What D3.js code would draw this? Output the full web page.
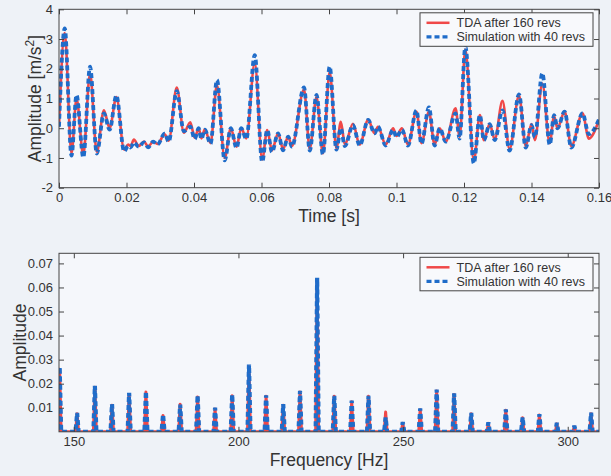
<!DOCTYPE html>
<html>
<head>
<meta charset="utf-8">
<script src="https://cdn.jsdelivr.net/npm/d3@7"></script>
<style>
  body { margin: 0; background: #eef2f7; }
  svg { display: block; font-family: "Liberation Sans", Arial, sans-serif; }
</style>
</head>
<body>
<div id="root"></div>
<script>
// time signal (local extrema)
const timeS = [0, 0.0017, 0.0037, 0.0052, 0.0072, 0.0092, 0.0112, 0.0133, 0.015, 0.017,
  0.0193, 0.0205, 0.0212, 0.0222, 0.0236, 0.0252, 0.0264, 0.0279, 0.0292, 0.0313,
  0.0325, 0.0349, 0.037, 0.0389, 0.0402, 0.0414, 0.0422, 0.0432, 0.0449, 0.0468,
  0.0491, 0.0509, 0.0526, 0.054, 0.0555, 0.058, 0.0602, 0.0617, 0.0631, 0.0649,
  0.0664, 0.0679, 0.069, 0.0726, 0.0743, 0.0763, 0.0782, 0.0802, 0.0822, 0.0835,
  0.0847, 0.0871, 0.0891, 0.0916, 0.0935, 0.0945, 0.0968, 0.099, 0.1, 0.1016,
  0.1034, 0.1059, 0.1074, 0.1096, 0.1113, 0.1128, 0.1146, 0.1175, 0.1187, 0.1204,
  0.1229, 0.1247, 0.1259, 0.1276, 0.1291, 0.1314, 0.1335, 0.1363, 0.1383, 0.14,
  0.141, 0.1432, 0.1454, 0.1467, 0.1477, 0.1498, 0.1518, 0.1551, 0.157, 0.16];
const tdaTime = [0.05, 3.2, -0.85, 1.0, -0.9, 1.85, -0.8, 0.6, 0.0, 1.05,
  -0.72, -0.55, -0.6, -0.38, -0.6, -0.45, -0.62, -0.45, -0.53, -0.2,
  -0.42, 1.37, -0.15, 0.2, -0.32, 0.0, -0.34, -0.04, -0.5, 1.45,
  -1.0, 0.0, -0.62, 0.0, -0.34, 2.2, -1.05, -0.06, -0.75, -0.17,
  -0.7, -0.28, -0.6, 1.3, -0.7, 1.05, -0.85, 1.9, -0.68, 0.22,
  -0.55, 0.15, -0.55, 0.28, -0.17, 0.05, -0.55, 0.0, -0.26, 0.0,
  -0.55, 0.56, -0.5, 0.55, -0.55, 0.0, -0.45, 0.67, -0.29, 2.65,
  -1.1, 0.44, -0.4, 0.14, -0.37, 0.92, -0.7, 1.1, -0.6, 0.14,
  -0.4, 1.5, -0.5, 0.4, 0.0, 0.56, -0.6, 0.5, -0.35, 0.28];
const simTime = [0.05, 3.36, -0.92, 1.12, -0.98, 2.07, -0.85, 0.5, -0.05, 1.1,
  -0.78, -0.6, -0.65, -0.48, -0.62, -0.48, -0.64, -0.45, -0.55, -0.18,
  -0.45, 1.25, -0.1, 0.05, -0.36, 0.0, -0.36, -0.05, -0.52, 1.62,
  -1.08, 0.0, -0.66, 0.0, -0.36, 2.46, -1.13, -0.06, -0.8, -0.17,
  -0.74, -0.28, -0.62, 1.37, -0.75, 1.12, -0.88, 2.07, -0.72, 0.0,
  -0.6, 0.1, -0.58, 0.28, -0.17, 0.05, -0.58, -0.05, -0.3, -0.05,
  -0.58, 0.6, -0.52, 0.7, -0.58, 0.0, -0.45, 0.5, -0.35, 2.74,
  -1.18, 0.44, -0.4, 0.14, -0.4, 0.6, -0.75, 1.14, -0.65, 0.1,
  -0.3, 1.85, -0.55, 0.44, 0.0, 0.56, -0.65, 0.5, -0.2, 0.3];

// spectrum (one spike per harmonic)
const peakHz = [145.7, 151.0, 156.4, 161.6, 166.8, 171.9, 177.1, 182.3, 187.6, 192.9,
  198.1, 203.2, 208.4, 213.6, 218.7, 223.9, 229.1, 234.4, 239.5, 244.7,
  249.9, 255.2, 260.2, 265.5, 270.7, 275.9, 281.2, 286.3, 291.4, 296.7, 302.0, 307.1];
const tdaAmp = [0.026, 0.0075, 0.0185, 0.011, 0.0155, 0.0165, 0.0068, 0.0115, 0.0145, 0.0095,
  0.015, 0.027, 0.0148, 0.011, 0.0165, 0.063, 0.0148, 0.0125, 0.0148, 0.0082,
  0.0035, 0.0092, 0.017, 0.0155, 0.0075, 0.0035, 0.009, 0.0058, 0.007, 0.0033, 0.002, 0.0075];
const simAmp = [0.027, 0.0079, 0.0191, 0.0115, 0.0162, 0.0168, 0.0072, 0.0113, 0.0151, 0.010,
  0.0155, 0.028, 0.0152, 0.0115, 0.017, 0.064, 0.015, 0.013, 0.015, 0.006,
  0.004, 0.0097, 0.0176, 0.016, 0.0079, 0.0039, 0.0093, 0.006, 0.0073, 0.0037, 0.0025, 0.008];

const timeTicks = [0, 0.02, 0.04, 0.06, 0.08, 0.1, 0.12, 0.14, 0.16];
const accTicks = [-2, -1, 0, 1, 2, 3, 4];
const freqTicks = [150, 200, 250, 300];
const ampTicks = [0.01, 0.02, 0.03, 0.04, 0.05, 0.06, 0.07];
const seriesNames = ['TDA after 160 revs', 'Simulation with 40 revs'];

const RED = '#f04848', BLUE = '#1f6cc9', INK = '#333';
const W = 611, H = 476;

const svg = d3.select('#root').append('svg')
  .attr('width', W).attr('height', H);

svg.append('rect').attr('width', W).attr('height', H).attr('fill', '#eef2f7');

function panel(opt) {
  const g = svg.append('g');
  const x = d3.scaleLinear().domain(opt.xDomain).range([59, 599]);
  const y = d3.scaleLinear().domain(opt.yDomain).range([opt.bottom, opt.top]);

  g.append('rect')
    .attr('x', 59).attr('y', opt.top)
    .attr('width', 540).attr('height', opt.bottom - opt.top)
    .attr('fill', '#f5f7fb');

  g.append('clipPath').attr('id', opt.id)
    .append('rect')
    .attr('x', 59).attr('y', opt.top)
    .attr('width', 540).attr('height', opt.bottom - opt.top);

  const plot = g.append('g').attr('clip-path', `url(#${opt.id})`);
  const line = d3.line().x(d => x(d[0])).y(d => y(d[1])).curve(opt.curve);

  plot.append('path').datum(opt.red)
    .attr('d', line).attr('fill', 'none')
    .attr('stroke', RED).attr('stroke-width', opt.redW)
    .attr('stroke-linejoin', 'round');
  plot.append('path').datum(opt.blue)
    .attr('d', line).attr('fill', 'none')
    .attr('stroke', BLUE).attr('stroke-width', opt.blueW)
    .attr('stroke-dasharray', '5,3');

  // axes, MATLAB style: inward ticks on all four sides
  const styleAxis = sel => {
    sel.select('.domain').remove();
    sel.selectAll('line').attr('stroke', '#444');
    sel.selectAll('text').attr('fill', INK).attr('font-size', 13)
      .attr('font-family', '"Liberation Sans", Arial, sans-serif');
  };
  g.append('g').attr('transform', `translate(0,${opt.bottom})`)
    .call(d3.axisBottom(x).tickValues(opt.xTicks).tickSizeInner(-5).tickSizeOuter(0)
      .tickPadding(5).tickFormat(opt.xFmt)).call(styleAxis);
  g.append('g').attr('transform', `translate(0,${opt.top})`)
    .call(d3.axisTop(x).tickValues(opt.xTicks).tickSizeInner(-5).tickSizeOuter(0)
      .tickFormat('')).call(styleAxis);
  g.append('g').attr('transform', 'translate(59,0)')
    .call(d3.axisLeft(y).tickValues(opt.yTicks).tickSizeInner(-5).tickSizeOuter(0)
      .tickPadding(6).tickFormat(opt.yFmt)).call(styleAxis);
  g.append('g').attr('transform', 'translate(599,0)')
    .call(d3.axisRight(y).tickValues(opt.yTicks).tickSizeInner(-5).tickSizeOuter(0)
      .tickFormat('')).call(styleAxis);

  g.append('rect')
    .attr('x', 59).attr('y', opt.top)
    .attr('width', 540).attr('height', opt.bottom - opt.top)
    .attr('fill', 'none').attr('stroke', '#444').attr('stroke-width', 1);

  // legend
  const lg = g.append('g').attr('transform', `translate(420,${opt.top + opt.legendDy})`);
  lg.append('rect').attr('width', 173).attr('height', 33.5)
    .attr('fill', '#f8f9fc').attr('stroke', '#444').attr('stroke-width', 1);
  seriesNames.forEach((name, i) => {
    const yy = 10 + i * 14;
    lg.append('line')
      .attr('x1', 6.5).attr('x2', 29.5).attr('y1', yy).attr('y2', yy)
      .attr('stroke', i ? BLUE : RED)
      .attr('stroke-width', i ? 3.2 : 2.5)
      .attr('stroke-dasharray', i ? '5,3' : null);
    lg.append('text')
      .attr('x', 36.5).attr('y', yy + 4.3)
      .attr('font-size', 12.5).attr('fill', INK)
      .text(name);
  });

  // axis titles
  g.append('text')
    .attr('x', 329).attr('y', opt.bottom + 34)
    .attr('text-anchor', 'middle').attr('font-size', 17.5).attr('fill', INK)
    .text(opt.xTitle);
  const yt = g.append('text')
    .attr('transform', `translate(${opt.yTitleX},${(opt.top + opt.bottom) / 2}) rotate(-90)`)
    .attr('text-anchor', 'middle').attr('font-size', 17.5).attr('fill', INK);
  opt.yTitle(yt);
}

const timePts = arr => timeS.map((t, i) => [t, arr[i]]);
// each harmonic drawn as a narrow spike standing on the zero line
const spikePts = arr => {
  const pts = [[peakHz[0] - 2, 0]];
  peakHz.forEach((f, i) => {
    pts.push([f - 0.45, 0], [f, arr[i]], [f + 0.45, 0]);
  });
  pts.push([310, 0]);
  return pts;
};

panel({
  id: 'clipTime',
  top: 9.3, bottom: 187.7,
  xDomain: [0, 0.16], yDomain: [-2, 4],
  xTicks: timeTicks, yTicks: accTicks,
  xFmt: d => d === 0 ? '0' : String(+d.toFixed(2)),
  yFmt: d => String(d),
  curve: d3.curveMonotoneX,
  red: timePts(tdaTime), blue: timePts(simTime),
  redW: 2.6, blueW: 3.8,
  legendDy: 3.5,
  xTitle: 'Time [s]',
  yTitleX: 41,
  yTitle: t => {
    t.append('tspan').text('Amplitude [m/s');
    t.append('tspan').attr('dy', -7).attr('font-size', 12).text('2');
    t.append('tspan').attr('dy', 7).text(']');
  }
});

panel({
  id: 'clipFreq',
  top: 253.3, bottom: 431.8,
  xDomain: [145.5, 309.5], yDomain: [0, 0.0742],
  xTicks: freqTicks, yTicks: ampTicks,
  xFmt: d => String(d),
  yFmt: d => String(+d.toFixed(2)),
  curve: d3.curveLinear,
  red: spikePts(tdaAmp), blue: spikePts(simAmp),
  redW: 3, blueW: 4.2,
  legendDy: 4,
  xTitle: 'Frequency [Hz]',
  yTitleX: 26,
  yTitle: t => t.text('Amplitude')
});
</script>
</body>
</html>
